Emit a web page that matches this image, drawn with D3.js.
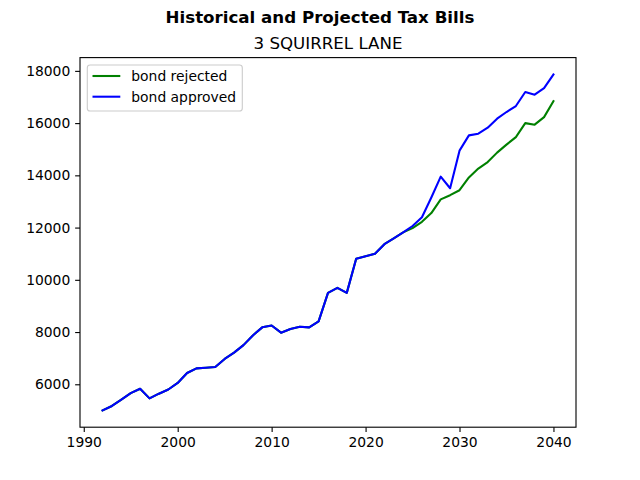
<!DOCTYPE html>
<html>
<head>
<meta charset="utf-8">
<script src="https://cdn.jsdelivr.net/npm/d3@7"></script>
<style>
  body { margin: 0; background: #fff; }
  svg text { font-family: "DejaVu Sans", sans-serif; }
</style>
</head>
<body>
<div id="chart"></div>
<script>
// years on the x axis
var years = d3.range(1992, 2041);

// tax bill with the bond rejected
var rejected = [
    5000, 5170, 5410, 5660, 5830, 5460, 5640, 5800, 6050, 6430,
    6610, 6635, 6660, 6970, 7210, 7500, 7870, 8180, 8250, 7975,
    8115, 8200, 8180, 8410, 9500, 9690, 9500, 10810, 10905, 10995,
    11365, 11585, 11815, 11980, 12220, 12555, 13080, 13240, 13430, 13920,
    14260, 14510, 14870, 15175, 15465, 16000, 15940, 16230, 16840
];

// tax bill with the bond approved
var approved = [
    5000, 5170, 5410, 5660, 5830, 5460, 5640, 5800, 6050, 6430,
    6610, 6635, 6660, 6970, 7210, 7500, 7870, 8180, 8250, 7975,
    8115, 8200, 8180, 8410, 9500, 9690, 9500, 10810, 10905, 10995,
    11365, 11585, 11815, 12060, 12395, 13150, 13950, 13505, 14945, 15530,
    15595, 15825, 16170, 16425, 16655, 17190, 17090, 17340, 17865
];

var xTicks = [1990, 2000, 2010, 2020, 2030, 2040];
var yTicks = [6000, 8000, 10000, 12000, 14000, 16000, 18000];

var series = [
    { name: 'bond rejected', color: 'green', values: rejected },
    { name: 'bond approved', color: 'blue', values: approved }
];

var W = 640, H = 480;
var axLeft = 80, axRight = 576, axTop = 57.6, axBottom = 427.2;
var fs = 13.89;        // 10pt
var tick = 4.86;       // 3.5pt

var svg = d3.select('#chart').append('svg')
    .attr('width', W)
    .attr('height', H);

// matplotlib style 5% margins
var xPad = (d3.max(years) - d3.min(years)) * 0.05;
var allVals = rejected.concat(approved);
var yPad = (d3.max(allVals) - d3.min(allVals)) * 0.05;

var x = d3.scaleLinear()
    .domain([d3.min(years) - xPad, d3.max(years) + xPad])
    .range([axLeft, axRight]);
var y = d3.scaleLinear()
    .domain([d3.min(allVals) - yPad, d3.max(allVals) + yPad])
    .range([axBottom, axTop]);

// lines
var line = d3.line()
    .x(function (d, i) { return x(years[i]); })
    .y(function (d) { return y(d); });

svg.append('g')
    .selectAll('path')
    .data(series)
    .enter()
    .append('path')
    .attr('d', function (d) { return line(d.values); })
    .attr('fill', 'none')
    .attr('stroke', function (d) { return d.color; })
    .attr('stroke-width', 2.08)
    .attr('stroke-linejoin', 'round')
    .attr('stroke-linecap', 'square');

// axes
var xAxis = svg.append('g')
    .attr('transform', 'translate(0,' + axBottom + ')')
    .call(d3.axisBottom(x).tickValues(xTicks).tickFormat(d3.format('d'))
        .tickSize(tick).tickPadding(tick));
var yAxis = svg.append('g')
    .attr('transform', 'translate(' + axLeft + ',0)')
    .call(d3.axisLeft(y).tickValues(yTicks).tickFormat(d3.format('d'))
        .tickSize(tick).tickPadding(tick));

[xAxis, yAxis].forEach(function (a) {
    a.select('.domain').remove();
    a.selectAll('.tick line').attr('stroke', '#000').attr('stroke-width', 1.11);
    a.selectAll('.tick text')
        .attr('fill', '#000')
        .style('font-size', fs + 'px');
});
xAxis.selectAll('.tick text').attr('dy', '0.76em');

// frame
svg.append('rect')
    .attr('x', axLeft)
    .attr('y', axTop)
    .attr('width', axRight - axLeft)
    .attr('height', axBottom - axTop)
    .attr('fill', 'none')
    .attr('stroke', '#000')
    .attr('stroke-width', 1.11);

// titles
svg.append('text')
    .attr('x', W / 2)
    .attr('y', 22.6)
    .attr('text-anchor', 'middle')
    .style('font-size', '16.67px')
    .style('font-weight', 'bold')
    .text('Historical and Projected Tax Bills');

svg.append('text')
    .attr('x', (axLeft + axRight) / 2)
    .attr('y', axTop - 8.33)
    .attr('text-anchor', 'middle')
    .style('font-size', '16.67px')
    .text('3 SQUIRREL LANE');

// legend
var lg = svg.append('g');
lg.append('rect')
    .attr('x', 87.3)
    .attr('y', 65)
    .attr('width', 155)
    .attr('height', 46)
    .attr('rx', 2.8)
    .attr('fill', '#fff')
    .attr('fill-opacity', 0.8)
    .attr('stroke', '#cccccc')
    .attr('stroke-width', 1.11);

var items = lg.selectAll('g.item')
    .data(series)
    .enter()
    .append('g')
    .attr('class', 'item')
    .attr('transform', function (d, i) { return 'translate(0,' + (76 + i * 20.7) + ')'; });

items.append('line')
    .attr('x1', 92.5)
    .attr('x2', 120.3)
    .attr('stroke', function (d) { return d.color; })
    .attr('stroke-width', 2.08);

items.append('text')
    .attr('x', 131.3)
    .attr('dy', '0.35em')
    .style('font-size', fs + 'px')
    .text(function (d) { return d.name; });
</script>
</body>
</html>
